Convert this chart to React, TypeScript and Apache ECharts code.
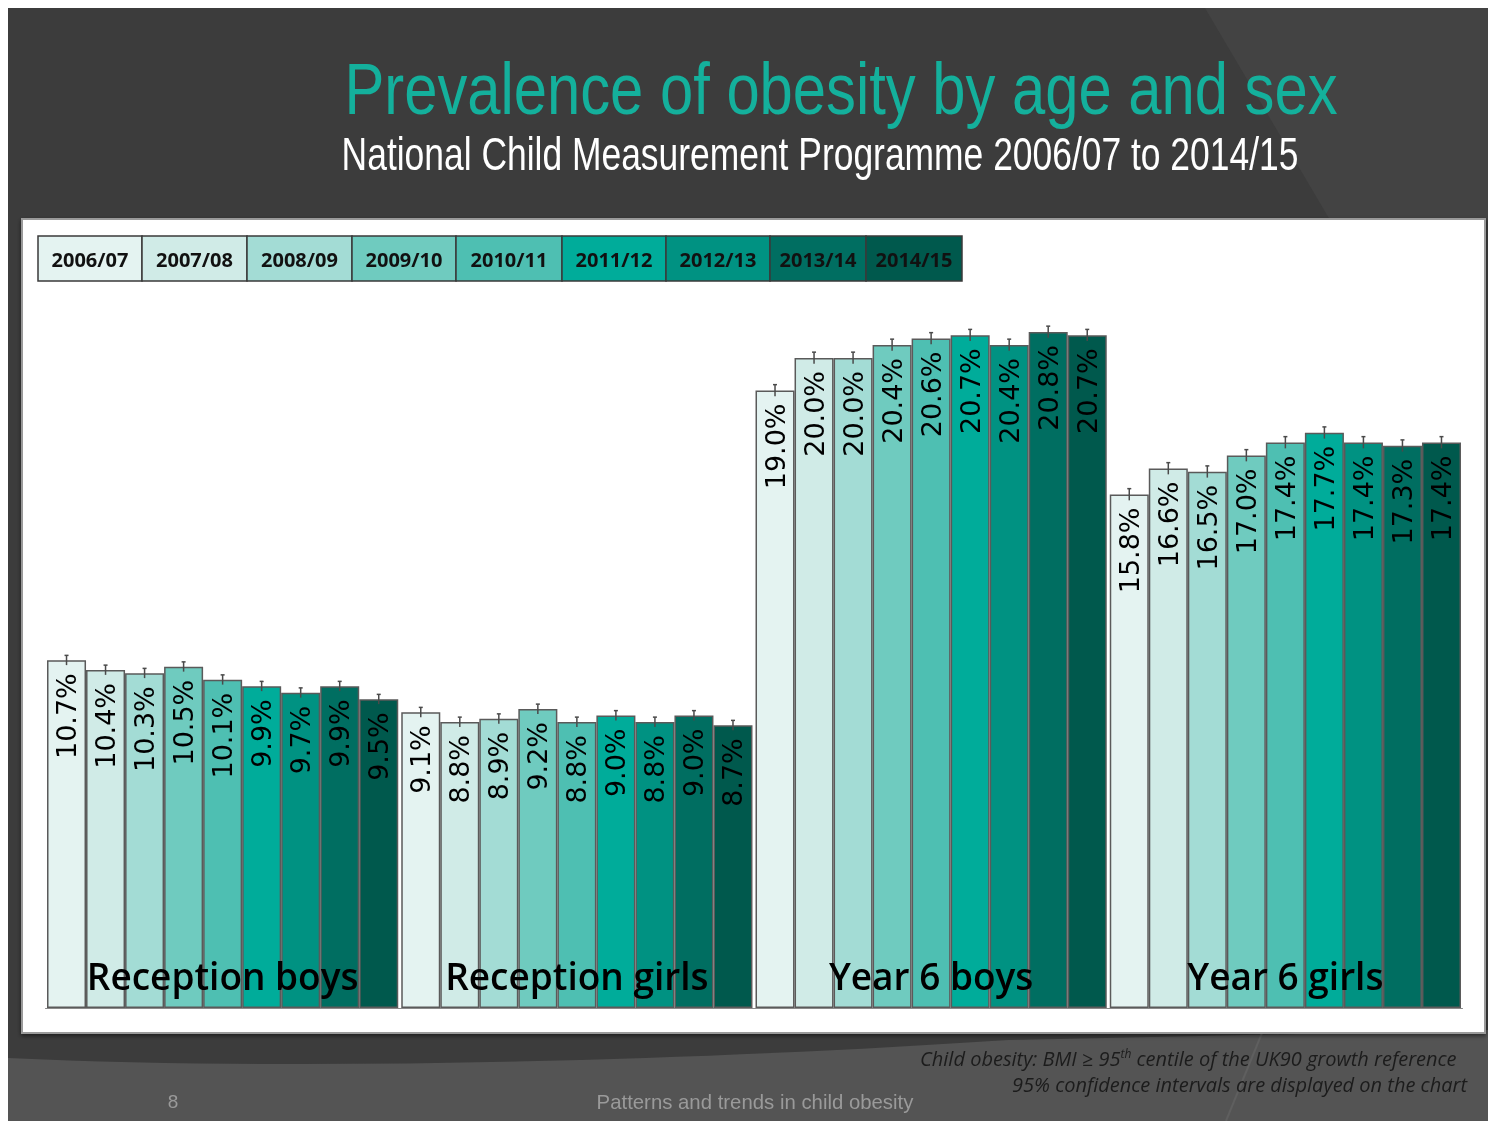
import React, { useEffect, useRef } from "react";
import * as echarts from "echarts";

// ---------- data ----------
const years = ["2006/07", "2007/08", "2008/09", "2009/10", "2010/11", "2011/12", "2012/13", "2013/14", "2014/15"];
const groups = ["Reception boys", "Reception girls", "Year 6 boys", "Year 6 girls"];
const receptionBoys = [10.7, 10.4, 10.3, 10.5, 10.1, 9.9, 9.7, 9.9, 9.5];
const receptionGirls = [9.1, 8.8, 8.9, 9.2, 8.8, 9.0, 8.8, 9.0, 8.7];
const year6Boys = [19.0, 20.0, 20.0, 20.4, 20.6, 20.7, 20.4, 20.8, 20.7];
const year6Girls = [15.8, 16.6, 16.5, 17.0, 17.4, 17.7, 17.4, 17.3, 17.4];
const ciHalfWidth = [0.15, 0.15, 0.18, 0.18];

// ---------- styles ----------
const colors = ["#e4f3f1", "#d0ebe7", "#a3dcd5", "#6fcbbf", "#4ebfb2", "#00ac9a", "#009282", "#006e61", "#00594d"];
const legendEdges = [38, 142, 247, 352, 456, 562, 666, 770, 866, 962];
const GAP = 0.0085;
const OX = 8;
const OY = 8;

const byGroup = [receptionBoys, receptionGirls, year6Boys, year6Girls];

let registered = false;
function registerShapes() {
  if (registered) return;
  registered = true;
  const d = `M0,${1058 - OY} C300,${1072 - OY} 700,${1060 - OY} 1000,${1040 - OY} L1480,${1030 - OY} L1480,1113 L0,1113 Z`;
  echarts.graphic.registerShape("bottomBand", echarts.graphic.extendPath(d, {}) as any);
}

export default function App() {
  const ref = useRef<HTMLDivElement>(null);
  useEffect(() => {
    if (!ref.current) return;
    registerShapes();
    const chart = echarts.init(ref.current, undefined, { renderer: "svg" });

    const barSeries = years.map((y, i) => ({
      type: "bar",
      name: y,
      data: byGroup.map((g) => g[i]),
      barGap: "0%",
      barCategoryGap: GAP * 100 + "%",
      itemStyle: { color: colors[i], borderColor: "#5a5a5a", borderWidth: 1.5 },
      label: {
        show: true,
        position: "insideTop",
        rotate: 90,
        align: "right",
        verticalAlign: "middle",
        distance: 13,
        fontFamily: "DejaVu Sans",
        fontSize: 27,
        color: "#000",
        formatter: (p: any) => Number(p.value).toFixed(1) + "%",
      },
      z: 2,
    }));

    const errSeries = years.map((y, i) => ({
      type: "custom",
      name: "ci " + y,
      data: byGroup.map((g, gi) => [gi, g[i], ciHalfWidth[gi]]),
      z: 5,
      renderItem: (params: any, api: any) => {
        const cat = api.value(0);
        const v = api.value(1);
        const ci = api.value(2);
        const c = api.coord([cat, v]);
        const band = api.size([1, 0])[0];
        const barW = (band * (1 - GAP)) / years.length;
        const x = c[0] + (i - (years.length - 1) / 2) * barW;
        const top = api.coord([cat, v + ci])[1];
        const bot = api.coord([cat, v - ci])[1];
        const st = { stroke: "#4a4a4a", lineWidth: 1.5 };
        return {
          type: "group",
          children: [
            { type: "line", shape: { x1: x, y1: top, x2: x, y2: bot }, style: st },
            { type: "line", shape: { x1: x - 2, y1: top, x2: x + 2, y2: top }, style: st },
          ],
        };
      },
    }));

    const legendCells: any[] = [];
    years.forEach((y, i) => {
      const x0 = legendEdges[i] - OX;
      const w = legendEdges[i + 1] - legendEdges[i];
      legendCells.push({
        type: "rect",
        z: 50,
        shape: { x: x0, y: 236 - OY, width: w, height: 45 },
        style: { fill: colors[i], stroke: "#3a3a3a", lineWidth: 1.5 },
      });
      legendCells.push({
        type: "text",
        z: 51,
        x: x0 + w / 2,
        y: 259 - OY,
        style: {
          text: y,
          fill: "#111",
          font: "bold 20px 'Open Sans'",
          align: "center",
          verticalAlign: "middle",
        },
      });
    });

    const option: any = {
      animation: false,
      grid: { left: 45.5 - OX, top: 228 - OY, width: 1417, height: 780, containLabel: false },
      xAxis: {
        type: "category",
        data: groups,
        z: 10,
        axisLine: { show: true, lineStyle: { color: "#8a8a8a", width: 1 } },
        axisTick: { show: false },
        axisLabel: {
          inside: true,
          margin: 33,
          verticalAlign: "middle",
          color: "#000",
          fontFamily: "Open Sans",
          fontWeight: 600,
          fontSize: 37,
        },
      },
      yAxis: { type: "value", min: 0, max: 24, show: false, splitLine: { show: false } },
      series: [...barSeries, ...errSeries],
      graphic: [
        { type: "rect", z: -20, shape: { x: 0, y: 0, width: 1480, height: 1113 }, style: { fill: "#3c3c3c" } },
        {
          type: "polygon",
          z: -19,
          shape: { points: [[1205 - OX, 0], [1480, 0], [1480, 220 - OY], [1330 - OX, 220 - OY]] },
          style: { fill: "#434343" },
        },
        { type: "bottomBand", z: -18, x: 0, y: 0, style: { fill: "#545454" } },
        {
          type: "line",
          z: -17,
          shape: { x1: 1262 - OX, y1: 1033 - OY, x2: 1226 - OX, y2: 1113 },
          style: { stroke: "#5f5f5f", lineWidth: 2 },
        },
        {
          type: "rect",
          z: -15,
          shape: { x: 22 - OX, y: 219 - OY, width: 1463, height: 814 },
          style: { fill: "#ffffff", stroke: "#9a9a9a", lineWidth: 2, shadowBlur: 4, shadowColor: "rgba(0,0,0,0.5)", shadowOffsetY: 2 },
        },
        {
          type: "text",
          z: 60,
          x: 841 - OX,
          y: 89 - OY,
          scaleX: 0.83,
          style: {
            text: "Prevalence of obesity by age and sex",
            fill: "#14b09c",
            font: "72px 'Liberation Sans'",
            align: "center",
            verticalAlign: "middle",
          },
        },
        {
          type: "text",
          z: 60,
          x: 820 - OX,
          y: 154 - OY,
          scaleX: 0.77,
          style: {
            text: "National Child Measurement Programme 2006/07 to 2014/15",
            fill: "#ffffff",
            font: "46px 'Liberation Sans'",
            align: "center",
            verticalAlign: "middle",
          },
        },
        ...legendCells,
        {
          type: "text",
          z: 60,
          x: 920 - OX,
          y: 1058 - OY,
          style: {
            text: "Child obesity: BMI ≥ 95{sup|th} centile of the UK90 growth reference",
            fill: "#1c1c1c",
            font: "italic 20px 'Open Sans'",
            align: "left",
            verticalAlign: "middle",
            rich: { sup: { font: "italic 12px 'Open Sans'", fill: "#1c1c1c", verticalAlign: "top", padding: [0, 0, 9, 0] } },
          },
        },
        {
          type: "text",
          z: 60,
          x: 1012 - OX,
          y: 1084 - OY,
          style: {
            text: "95% confidence intervals are displayed on the chart",
            fill: "#1c1c1c",
            font: "italic 20px 'Open Sans'",
            align: "left",
            verticalAlign: "middle",
          },
        },
        {
          type: "text",
          z: 60,
          x: 173 - OX,
          y: 1101 - OY,
          style: { text: "8", fill: "#9a9a9a", font: "19px 'Liberation Sans'", align: "center", verticalAlign: "middle" },
        },
        {
          type: "text",
          z: 60,
          x: 755 - OX,
          y: 1101 - OY,
          scaleX: 0.97,
          style: {
            text: "Patterns and trends in child obesity",
            fill: "#9a9a9a",
            font: "21px 'Liberation Sans'",
            align: "center",
            verticalAlign: "middle",
          },
        },
      ],
    };
    chart.setOption(option);
    return () => chart.dispose();
  }, []);
  return (
    <div
      ref={ref}
      style={{ position: "fixed", left: 8, top: 8, width: 1480, height: 1113, overflow: "hidden" }}
    />
  );
}
